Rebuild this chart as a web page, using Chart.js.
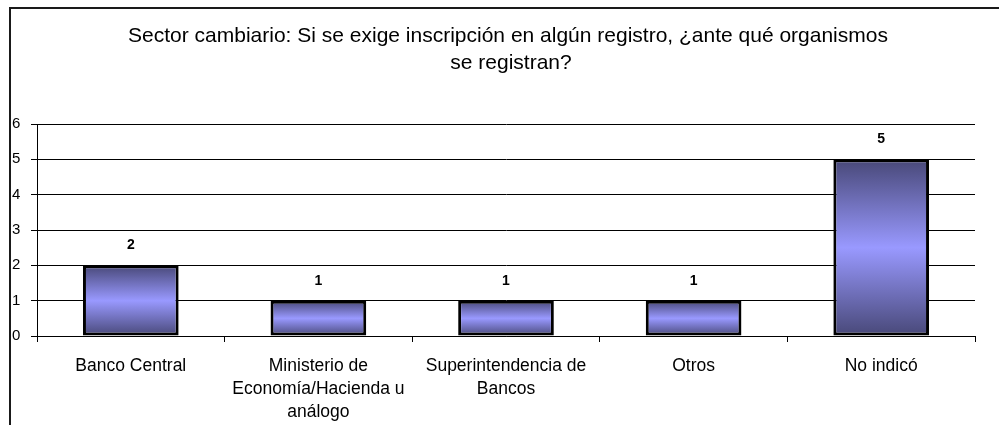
<!DOCTYPE html>
<html>
<head>
<meta charset="utf-8">
<script src="https://cdn.jsdelivr.net/npm/chart.js@4"></script>
<style>
html,body{margin:0;padding:0;background:#fff;}
canvas{display:block;}
</style>
</head>
<body>
<canvas id="c" width="999" height="425"></canvas>
<script>
const titleLines = ["Sector cambiario: Si se exige inscripción en algún registro, ¿ante qué organismos", "se registran?"];
const categories = ["Banco Central", ["Ministerio de", "Economía/Hacienda u", "análogo"], ["Superintendencia de", "Bancos"], "Otros", "No indicó"];
const values = [2, 1, 1, 1, 5];
const yMin = 0;
const yMax = 6;
const yStep = 1;

const FONT = '"Liberation Sans", Arial, sans-serif';

const framePlugin = {
  id: 'frame',
  beforeDraw(chart) {
    const ctx = chart.ctx;
    ctx.save();
    ctx.fillStyle = '#fff';
    ctx.fillRect(0, 0, chart.width, chart.height);
    ctx.strokeStyle = '#1a1a1a';
    ctx.lineWidth = 2;
    ctx.beginPath();
    ctx.moveTo(10, chart.height + 2);
    ctx.lineTo(10, 8);
    ctx.lineTo(chart.width + 2, 8);
    ctx.stroke();
    // title
    ctx.fillStyle = '#000';
    ctx.font = '21px ' + FONT;
    ctx.textAlign = 'center';
    ctx.textBaseline = 'alphabetic';
    ctx.fillText(titleLines[0], 508, 42);
    ctx.fillText(titleLines[1], 511, 68.5);
    ctx.restore();
  }
};

const labelPlugin = {
  id: 'vlabels',
  afterDatasetsDraw(chart) {
    const ctx = chart.ctx;
    const meta = chart.getDatasetMeta(0);
    ctx.save();
    ctx.fillStyle = '#000';
    ctx.font = 'bold 14px ' + FONT;
    ctx.textAlign = 'center';
    ctx.textBaseline = 'middle';
    meta.data.forEach((bar, i) => {
      ctx.fillText(String(values[i]), bar.x, bar.y - 20);
    });
    ctx.restore();
  }
};

function barGradient(context) {
  const chart = context.chart;
  const ys = chart.scales.y;
  if (!ys || context.raw === undefined) return '#9999ff';
  const top = ys.getPixelForValue(context.raw);
  const bottom = ys.getPixelForValue(0);
  if (!isFinite(top) || !isFinite(bottom) || top === bottom) return '#9999ff';
  const g = chart.ctx.createLinearGradient(0, top, 0, bottom);
  g.addColorStop(0, '#484878');
  g.addColorStop(0.5, '#9999ff');
  g.addColorStop(1, '#484878');
  return g;
}

new Chart(document.getElementById('c'), {
  type: 'bar',
  data: {
    labels: categories,
    datasets: [{
      data: values,
      backgroundColor: barGradient,
      borderColor: '#000',
      borderWidth: 3,
      borderSkipped: false,
      categoryPercentage: 1.0,
      barPercentage: 0.51
    }]
  },
  options: {
    responsive: false,
    devicePixelRatio: 1,
    animation: false,
    layout: { padding: { top: 124, left: 12, right: 24, bottom: 0 } },
    plugins: {
      legend: { display: false },
      title: { display: false },
      tooltip: { enabled: false }
    },
    scales: {
      y: {
        min: yMin,
        max: yMax,
        ticks: {
          stepSize: yStep,
          color: '#000',
          font: { family: FONT, size: 15 },
          crossAlign: 'far',
          padding: 6
        },
        grid: { color: '#000', lineWidth: 1, tickLength: 6, drawTicks: true },
        border: { display: true, color: '#000', width: 1 },
        afterFit(scale) { scale.width = 25; }
      },
      x: {
        offset: true,
        ticks: {
          color: '#000',
          font: { family: FONT, size: 17.5, lineHeight: '23px' },
          padding: 13,
          maxRotation: 0,
          minRotation: 0,
          autoSkip: false
        },
        grid: { offset: true, drawOnChartArea: false, color: '#000', tickLength: 6 },
        border: { display: true, color: '#000', width: 1 },
        afterFit(scale) { scale.height = 89; }
      }
    }
  },
  plugins: [framePlugin, labelPlugin]
});
</script>
</body>
</html>
